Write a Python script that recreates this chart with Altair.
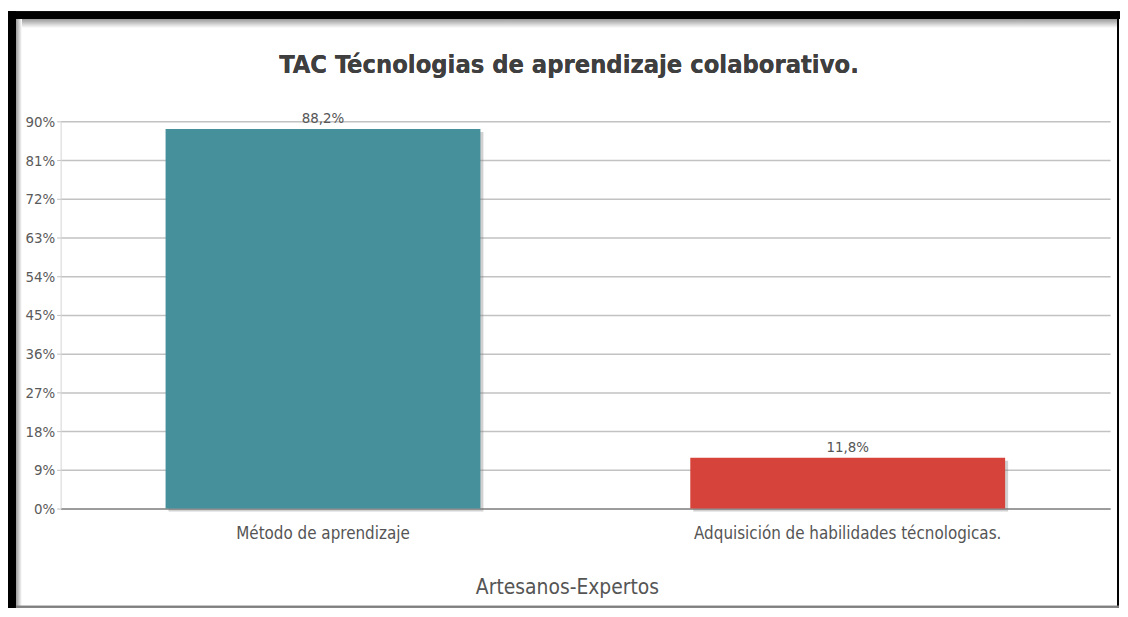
import altair as alt
import pandas as pd

categories = ["Método de aprendizaje", "Adquisición de habilidades técnologicas."]
values = [88.2, 11.8]
colors = ["#45909A", "#D5433B"]
y_ticks = [0, 9, 18, 27, 36, 45, 54, 63, 72, 81, 90]

title_text = "TAC Técnologias de aprendizaje colaborativo."
x_title = "Artesanos-Expertos"

FONT = "DejaVu Sans Condensed, Liberation Sans Narrow, sans-serif"

df = pd.DataFrame({"cat": categories, "val": values, "color": colors})

W, H = 1057, 390

x_enc = alt.X(
    "cat:N",
    sort=categories,
    scale=alt.Scale(paddingInner=0.4, paddingOuter=0.2),
    axis=alt.Axis(
        title=x_title,
        labelAngle=0,
        labelFontSize=17,
        labelColor="#555555",
        labelFont=FONT,
        labelPadding=17,
        labelLimit=0,
        ticks=False,
        domainColor="#8a8a8a",
        domainWidth=1.5,
        titleFont=FONT,
        titleFontSize=21,
        titleFontWeight="normal",
        titleColor="#555555",
        titlePadding=36,
        titleX=510,
        titleAlign="center",
    ),
)
y_enc = alt.Y(
    "val:Q",
    scale=alt.Scale(domain=[0, 90], nice=False),
    axis=alt.Axis(
        title=None,
        values=y_ticks,
        labelExpr="datum.value + '%'",
        labelFontSize=15,
        labelFont=FONT,
        labelColor="#5a5a5a",
        labelOverlap=False,
        labelLimit=0,
        tickSize=4,
        tickColor="#c0c0c0",
        labelPadding=2,
        domainColor="#d4d4d4",
        gridColor="#c2c2c2",
        gridWidth=1.5,
    ),
)

shadow = alt.Chart(df).mark_bar(color="#7a7a7a", opacity=0.35, xOffset=3, yOffset=3).encode(
    x=x_enc, y=y_enc
)
bars = alt.Chart(df).mark_bar().encode(
    x=x_enc,
    y=y_enc,
    color=alt.Color("color:N", scale=None),
)
labels = alt.Chart(df).transform_calculate(
    lab="replace(format(datum.val, '.1f'), '.', ',') + '%'"
).mark_text(dy=-11, fontSize=15, font=FONT, color="#555555").encode(
    x=x_enc, y=y_enc, text="lab:N"
)

title_mark = alt.Chart(df).mark_text(
    text=title_text, font=FONT, fontSize=25.5, fontWeight="bold", color="#3f3f3f",
    align="center", baseline="alphabetic",
).encode(x=alt.value(512), y=alt.value(-49))

# decorative frame (screenshot border)
frame_top = alt.Chart(df).mark_rect(color="black").encode(
    x=alt.value(-53), x2=alt.value(1067), y=alt.value(-111), y2=alt.value(-103)
)
frame_left = alt.Chart(df).mark_rect(color="black").encode(
    x=alt.value(-53), x2=alt.value(-45), y=alt.value(-111), y2=alt.value(492)
)
grad_top = alt.Chart(df).mark_rect(
    fill=alt.LinearGradient(
        gradient="linear", x1=0, y1=0, x2=0, y2=1,
        stops=[alt.GradientStop(color="#9a9a9a", offset=0), alt.GradientStop(color="#ffffff", offset=1)],
    )
).encode(x=alt.value(-45), x2=alt.value(1065), y=alt.value(-103), y2=alt.value(-94))
grad_left = alt.Chart(df).mark_rect(
    fill=alt.LinearGradient(
        gradient="linear", x1=0, y1=0, x2=1, y2=0,
        stops=[alt.GradientStop(color="#9a9a9a", offset=0), alt.GradientStop(color="#ffffff", offset=1)],
    )
).encode(x=alt.value(-45), x2=alt.value(-39), y=alt.value(-103), y2=alt.value(492))
frame_right = alt.Chart(df).mark_rect(color="black").encode(
    x=alt.value(1064), x2=alt.value(1066), y=alt.value(-111), y2=alt.value(492)
)
frame_bottom = alt.Chart(df).mark_rect(color="#7f7f7f").encode(
    x=alt.value(-45), x2=alt.value(1066), y=alt.value(488), y2=alt.value(490)
)

chart = alt.layer(
    grad_top, grad_left, frame_top, frame_left, frame_right, frame_bottom,
    shadow, bars, labels, title_mark,
).properties(
    width=W,
    height=H,
    autosize=alt.AutoSizeParams(type="none"),
    padding={"left": 53, "top": 112, "right": 10, "bottom": 98},
).configure_view(stroke=None)

chart.save("out.html", embed_options={"renderer": "svg", "actions": False})
